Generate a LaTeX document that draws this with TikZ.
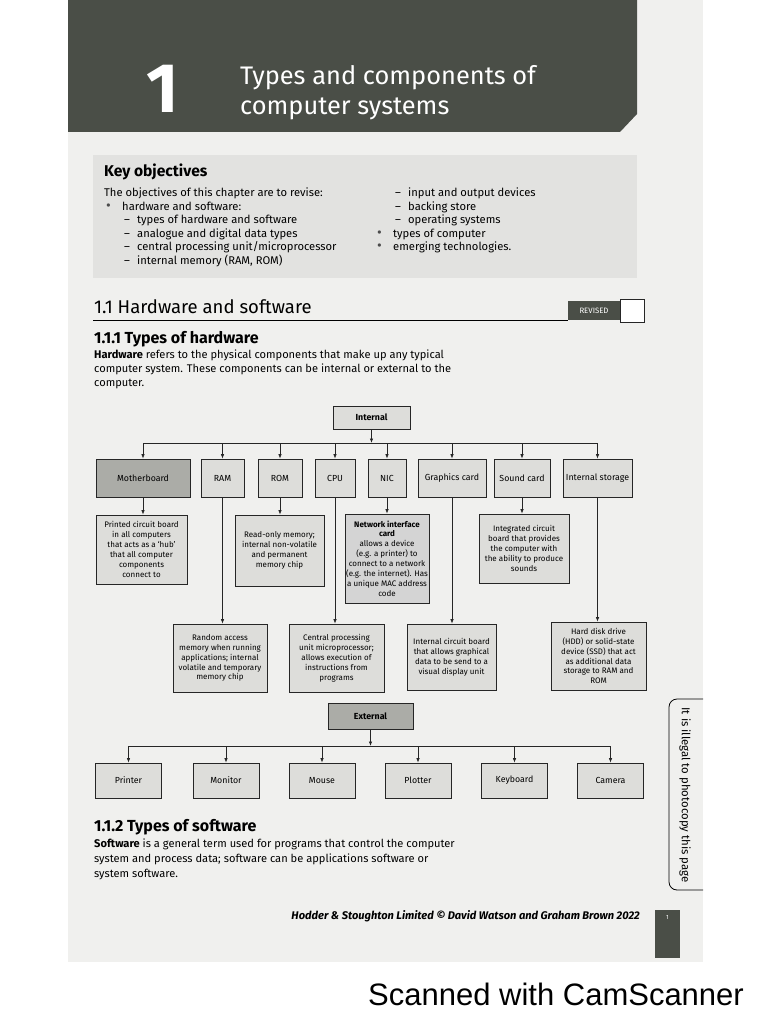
\documentclass[tikz,border=0pt]{standalone}
\usepackage{fontspec}
\setmainfont{Fira Sans}
\newfontfamily\scanfont{Liberation Sans}
\usetikzlibrary{arrows.meta,positioning,calc}
\definecolor{bandgrey}{HTML}{4A4E47}
\definecolor{pagegrey}{HTML}{F0F0EE}
\definecolor{objgrey}{HTML}{E2E2E0}
\definecolor{boxgrey}{HTML}{DDDDDA}
\definecolor{darkbox}{HTML}{ABACA7}
\newcommand{\objbul}[1]{\makebox[18pt][l]{\hspace{2pt}\textcolor{black!70}{\scalebox{1.3}{\textbullet}}}#1}
\newcommand{\objdash}[1]{\hspace{20pt}\makebox[13pt][l]{--}#1}

\begin{document}
\begin{tikzpicture}[
  x=1pt, y=-1pt,
  line width=0.4pt,
  hwbox/.style={draw=black!85, fill=boxgrey, line width=0.8pt,
                inner sep=1pt, align=center, minimum height=38,
                font=\fontsize{8.8}{9}\selectfont},
  mainbox/.style={hwbox, fill=darkbox},
  descbox/.style={hwbox, inner sep=1pt, font=\fontsize{8}{9.9}\selectfont},
  devbox/.style={hwbox, minimum width=66, minimum height=35},
  headbox/.style={hwbox, font=\fontsize{8.8}{9}\selectfont\bfseries},
  conn/.style={line width=0.7pt, draw=black!85},
  arr/.style={conn, -{Latex[length=4.5pt,width=3.5pt]}},
  bodytext/.style={anchor=base west, inner sep=0pt, font=\fontsize{11.1}{11.1}\selectfont},
  objtext/.style={anchor=base west, inner sep=0pt, font=\fontsize{11.2}{11.2}\selectfont}
]
  \useasboundingbox (0,0) rectangle (768,1024);
  \fill[white] (0,0) rectangle (768,1024);
  \fill[pagegrey] (68,0) rectangle (703,962);

  % --- chapter band ---
  \fill[bandgrey] (68,0) -- (637,0) -- (637,114) -- (620,132) -- (68,132) -- cycle;
  \node[anchor=base, inner sep=0pt, text=white,
        font=\fontsize{70}{70}\selectfont\bfseries] (chapno) at (163,113) {1};
  \node[anchor=base west, inner sep=0pt, text=white,
        font=\fontsize{25.4}{25.4}\selectfont] (title1) at (240,85) {Types and components of};
  \node[anchor=base west, inner sep=0pt, text=white,
        font=\fontsize{25.4}{25.4}\selectfont] (title2) at (240,115) {computer systems};

  % --- key objectives ---
  \fill[objgrey] (93,155) rectangle (637,278);
  \node[anchor=base west, inner sep=0pt, font=\fontsize{15.6}{15.6}\selectfont\bfseries]
       (kohead) at (104,177) {Key objectives};
  \foreach \txt [count=\i from 0] in {{The objectives of this chapter are to revise:},
      {\objbul{hardware and software:}}, {\objdash{types of hardware and software}},
      {\objdash{analogue and digital data types}},
      {\objdash{central processing unit/microprocessor}},
      {\objdash{internal memory (RAM, ROM)}}}
    \node[objtext] (kol\i) at (104,197+13.4*\i) {\txt};
  \foreach \txt [count=\i from 0] in {{\objdash{input and output devices}},
      {\objdash{backing store}}, {\objdash{operating systems}},
      {\objbul{types of computer}}, {\objbul{emerging technologies.}}}
    \node[objtext] (kor\i) at (375,197+13.4*\i) {\txt};

  % --- section heading ---
  \node[anchor=base west, inner sep=0pt, font=\fontsize{18.5}{18.5}\selectfont]
       (sec) at (94,313) {1.1 Hardware and software};
  \draw[line width=0.9pt] (93,320) -- (568,320);
  \node[fill=bandgrey, text=white, minimum width=52, minimum height=19, inner sep=0pt,
        font=\fontsize{7.8}{7.8}\selectfont] (revised) at (594,310.5) {REVISED};
  \node[draw=black!85, fill=white, line width=0.8pt, minimum width=24, minimum height=23,
        inner sep=0pt, right=0pt of revised] (tick) {};

  \node[anchor=base west, inner sep=0pt, font=\fontsize{16}{16}\selectfont\bfseries]
       (sub1) at (94,343) {1.1.1 Types of hardware};
  \foreach \txt [count=\i from 0] in {{\textbf{Hardware} refers to the physical components that make up any typical},
      {computer system. These components can be internal or external to the},
      {computer.}}
    \node[bodytext] (hw\i) at (94,358+14*\i) {\txt};

  % --- internal hardware tree ---
  \node[headbox, minimum width=77, minimum height=23] (internal) at (371.5,417.5) {Internal};
  \node[mainbox, minimum width=94] (mb)   at (143,478)   {Motherboard};
  \node[hwbox, minimum width=43]   (ram)  at (222.5,478) {RAM};
  \node[hwbox, minimum width=44]   (rom)  at (280,478)   {ROM};
  \node[hwbox, minimum width=40]   (cpu)  at (335,478)   {CPU};
  \node[hwbox, minimum width=38]   (nic)  at (387,478)   {NIC};
  \node[hwbox, minimum width=68]   (gfx)  at (452,478)   {Graphics card};
  \node[hwbox, minimum width=56]   (snd)  at (522,478)   {Sound card};
  \node[hwbox, minimum width=69]   (stor) at (597.5,478) {Internal storage};

  \coordinate (ibus) at (371.5,443);
  \draw[conn] (ibus -| mb.north) -- (ibus -| stor.north);
  \draw[arr] (internal.south) -- (ibus);
  \foreach \n in {mb,ram,rom,cpu,nic,gfx,snd,stor}
    \draw[arr] (ibus -| \n.north) -- (\n.north);

  % descriptions, upper row
  \node[descbox, minimum width=91, minimum height=69] (mbd) at (141.5,549.5)
       {Printed circuit board\\in all computers\\that acts as a ‘hub’\\that all computer\\components\\connect to};
  \node[descbox, minimum width=89, minimum height=71] (romd) at (279.5,550.5)
       {Read-only memory;\\internal non-volatile\\and permanent\\memory chip};
  \node[descbox, minimum width=84, minimum height=89, fill=black!17] (nicd) at (387,558.5)
       {\textbf{Network interface}\\\textbf{card}\\allows a device\\(e.g. a printer) to\\connect to a network\\(e.g. the internet). Has\\a unique MAC address\\code};
  \node[descbox, minimum width=90, minimum height=69] (sndd) at (524,548.5)
       {Integrated circuit\\board that provides\\the computer with\\the ability to produce\\sounds};

  % descriptions, lower row
  \node[descbox, minimum width=94, minimum height=68] (ramd) at (220,658)
       {Random access\\memory when running\\applications; internal\\volatile and temporary\\memory chip};
  \node[descbox, minimum width=95, minimum height=68] (cpud) at (336.5,658)
       {Central processing\\unit microprocessor;\\allows execution of\\instructions from\\programs};
  \node[descbox, minimum width=89, minimum height=66] (gfxd) at (451.5,657)
       {Internal circuit board\\that allows graphical\\data to be send to a\\visual display unit};
  \node[descbox, minimum width=95, minimum height=68] (stord) at (598.5,656)
       {Hard disk drive\\(HDD) or solid-state\\device (SSD) that act\\as additional data\\storage to RAM and\\ROM};

  \foreach \a/\b in {mb/mbd,rom/romd,nic/nicd,snd/sndd,ram/ramd,cpu/cpud,gfx/gfxd,stor/stord}
    \draw[arr] (\a.south) -- (\a.south |- \b.north);

  % --- external hardware tree ---
  \node[headbox, fill=darkbox, minimum width=85, minimum height=26] (external) at (370.5,716) {External};
  \node[devbox] (printer)  at (128.5,780.5) {Printer};
  \node[devbox] (monitor)  at (226,780.5)   {Monitor};
  \node[devbox] (mouse)    at (322,780.5)   {Mouse};
  \node[devbox] (plotter)  at (418,780.5)   {Plotter};
  \node[devbox] (keyboard) at (514.5,780.5) {Keyboard};
  \node[devbox] (camera)   at (610.5,780.5) {Camera};

  \coordinate (ebus) at (370.5,746);
  \draw[conn] (ebus -| printer.north) -- (ebus -| camera.north);
  \draw[arr] (external.south) -- (ebus);
  \foreach \n in {printer,monitor,mouse,plotter,keyboard,camera}
    \draw[arr] (ebus -| \n.north) -- (\n.north);

  % --- software ---
  \node[anchor=base west, inner sep=0pt, font=\fontsize{16}{16}\selectfont\bfseries]
       (sub2) at (94,831) {1.1.2 Types of software};
  \foreach \txt [count=\i from 0] in {{\textbf{Software} is a general term used for programs that control the computer},
      {system and process data; software can be applications software or},
      {system software.}}
    \node[bodytext] (sw\i) at (94,847+15*\i) {\txt};

  % --- side tab and footer ---
  \draw[line width=0.8pt, rounded corners=8pt] (703,699) -- (669,699) -- (669,890) -- (703,890);
  \node[rotate=-90, inner sep=0pt, font=\fontsize{11.4}{11.4}\selectfont] (tab) at (685,795)
       {It is illegal to photocopy this page};
  \node[anchor=base east, inner sep=0pt, font=\fontsize{11.1}{11.1}\selectfont\bfseries\itshape]
       (foot) at (640,919) {Hodder \& Stoughton Limited © David Watson and Graham Brown 2022};
  \node[fill=bandgrey, minimum width=25, minimum height=48, inner sep=0pt] (pagebox) at (667.5,934) {};
  \node[text=white, inner sep=0pt, font=\fontsize{6}{6}\selectfont, below=5pt of pagebox.north] (pageno) {1};

  \node[anchor=base west, inner sep=0pt, font=\scanfont\fontsize{31}{31}\selectfont]
       (scan) at (368,1005) {Scanned with CamScanner};
\end{tikzpicture}
\end{document}
